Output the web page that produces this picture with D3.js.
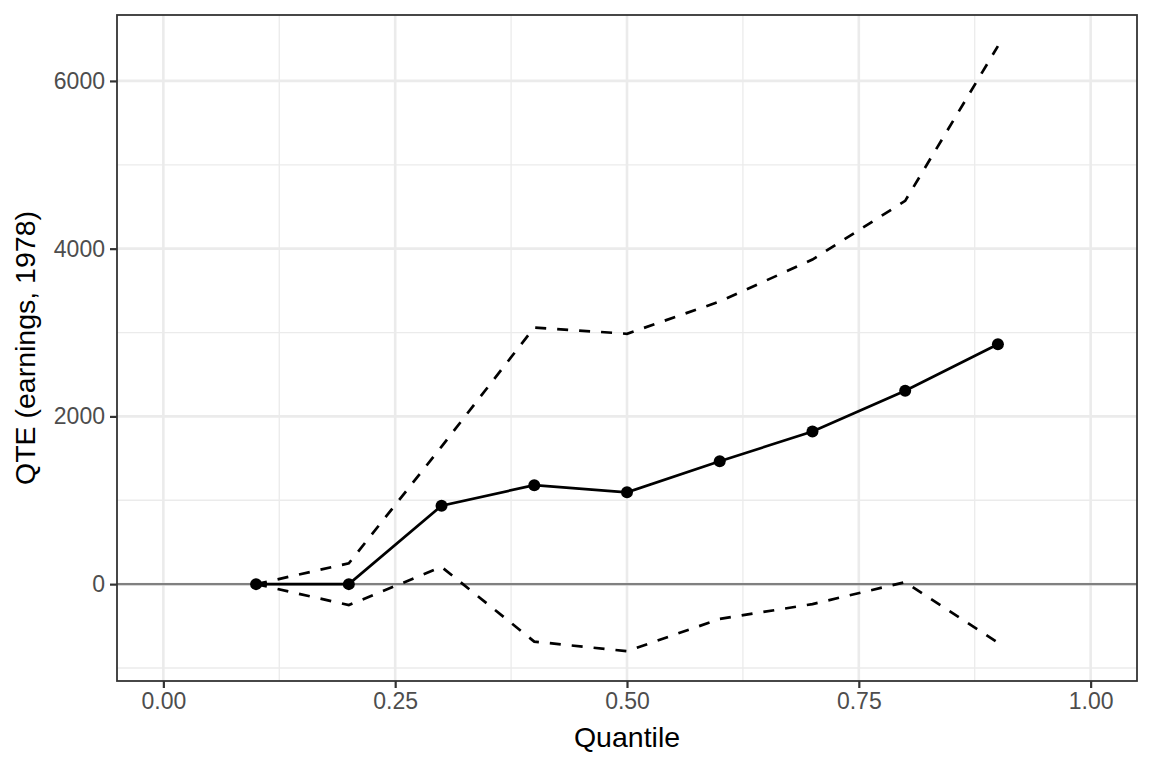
<!DOCTYPE html>
<html>
<head>
<meta charset="utf-8">
<script src="https://cdn.jsdelivr.net/npm/d3@7"></script>
<style>
  html, body { margin: 0; padding: 0; background: #fff; }
  svg { display: block; font-family: "Liberation Sans", Arial, sans-serif; }
</style>
</head>
<body>
<svg id="chart" width="1152" height="768"></svg>
<script>
const quantiles = [0.1, 0.2, 0.3, 0.4, 0.5, 0.6, 0.7, 0.8, 0.9];
const qte       = [0, 0, 935, 1180, 1095, 1465, 1820, 2305, 2860];
const upperCI   = [0, 248, 1640, 3060, 2985, 3370, 3870, 4570, 6415];
const lowerCI   = [0, -250, 205, -685, -800, -415, -238, 24, -698];
const xTicks = [0, 0.25, 0.5, 0.75, 1];
const xMinor = [0.125, 0.375, 0.625, 0.875];
const yTicks = [0, 2000, 4000, 6000];
const yMinor = [-1000, 1000, 3000, 5000];
const xTitle = "Quantile";
const yTitle = "QTE (earnings, 1978)";

const svg = d3.select("#chart");
const L = 117, R = 1137, T = 15, B = 681;
const x = d3.scaleLinear().domain([-0.05, 1.05]).range([L, R]);
const y = d3.scaleLinear().domain([-1155, 6786]).range([B, T]);

svg.append("rect").attr("x", L).attr("y", T).attr("width", R - L).attr("height", B - T).attr("fill", "#fff");

const grid = svg.append("g");
grid.selectAll(".ym").data(yMinor).join("line")
  .attr("x1", L).attr("x2", R).attr("y1", d => y(d)).attr("y2", d => y(d))
  .attr("stroke", "#EBEBEB").attr("stroke-width", 1.3);
grid.selectAll(".xm").data(xMinor).join("line")
  .attr("y1", T).attr("y2", B).attr("x1", d => x(d)).attr("x2", d => x(d))
  .attr("stroke", "#EBEBEB").attr("stroke-width", 1.3);
grid.selectAll(".yM").data(yTicks).join("line")
  .attr("x1", L).attr("x2", R).attr("y1", d => y(d)).attr("y2", d => y(d))
  .attr("stroke", "#EBEBEB").attr("stroke-width", 2.6);
grid.selectAll(".xM").data(xTicks).join("line")
  .attr("y1", T).attr("y2", B).attr("x1", d => x(d)).attr("x2", d => x(d))
  .attr("stroke", "#EBEBEB").attr("stroke-width", 2.6);

svg.append("line").attr("x1", L).attr("x2", R).attr("y1", y(0)).attr("y2", y(0))
  .attr("stroke", "#808080").attr("stroke-width", 2.4);

const line = d3.line().x(d => x(d[0])).y(d => y(d[1]));
const toPts = arr => quantiles.map((q, i) => [q, arr[i]]);

svg.append("path").datum(toPts(upperCI)).attr("d", line)
  .attr("fill", "none").attr("stroke", "#000").attr("stroke-width", 2.7)
  .attr("stroke-dasharray", "11,11");
svg.append("path").datum(toPts(lowerCI)).attr("d", line)
  .attr("fill", "none").attr("stroke", "#000").attr("stroke-width", 2.7)
  .attr("stroke-dasharray", "11,11");
svg.append("path").datum(toPts(qte)).attr("d", line)
  .attr("fill", "none").attr("stroke", "#000").attr("stroke-width", 2.7);
svg.selectAll(".pt").data(toPts(qte)).join("circle")
  .attr("cx", d => x(d[0])).attr("cy", d => y(d[1])).attr("r", 6).attr("fill", "#000");

svg.append("rect").attr("x", L).attr("y", T).attr("width", R - L).attr("height", B - T)
  .attr("fill", "none").attr("stroke", "#333333").attr("stroke-width", 1.8);

const xAxis = svg.append("g").attr("transform", `translate(0,${B})`)
  .call(d3.axisBottom(x).tickValues(xTicks).tickFormat(d3.format(".2f")).tickSizeOuter(0).tickSize(7).tickPadding(5));
const yAxis = svg.append("g").attr("transform", `translate(${L},0)`)
  .call(d3.axisLeft(y).tickValues(yTicks).tickFormat(d3.format("d")).tickSizeOuter(0).tickSize(7).tickPadding(5));
[xAxis, yAxis].forEach(a => {
  a.select(".domain").remove();
  a.selectAll(".tick line").attr("stroke", "#333333").attr("stroke-width", 2.2);
  a.selectAll(".tick text").attr("fill", "#4D4D4D").style("font-size", "23px")
    .style("font-family", "'Liberation Sans', Arial, sans-serif");
});

svg.append("text").attr("x", (L + R) / 2).attr("y", 747).attr("text-anchor", "middle")
  .style("font-size", "28.5px").attr("fill", "#000").text(xTitle);
svg.append("text").attr("transform", `translate(35,${(T + B) / 2}) rotate(-90)`)
  .attr("text-anchor", "middle").style("font-size", "28.5px").attr("fill", "#000").text(yTitle);
</script>
</body>
</html>
